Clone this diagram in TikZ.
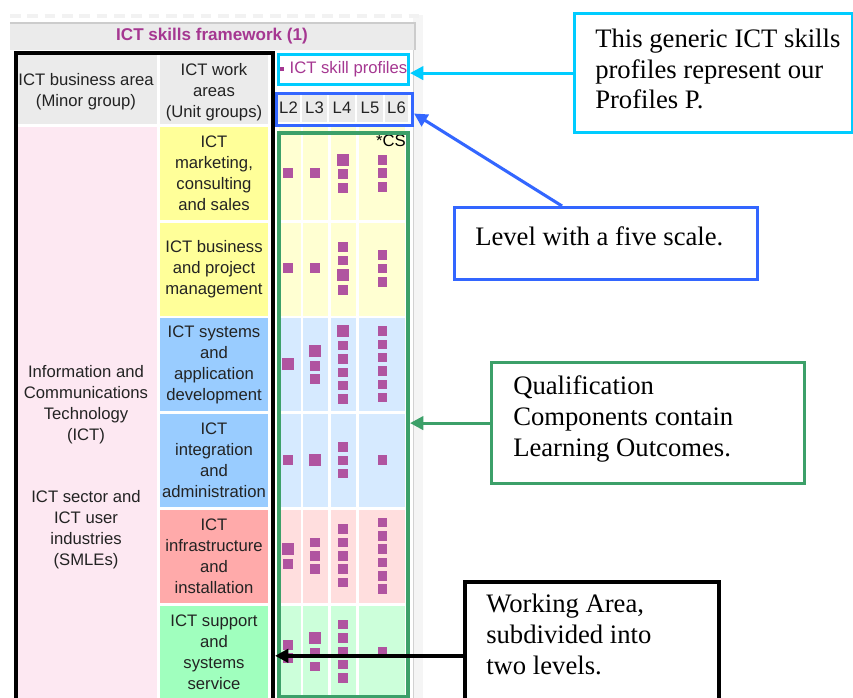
\documentclass[tikz,border=0pt]{standalone}
\usepackage{fontspec}
\setmainfont{Liberation Serif}
\setsansfont{Liberation Sans}
\usetikzlibrary{arrows.meta}
\definecolor{ttl}{RGB}{165,55,145}
\definecolor{hdr}{RGB}{235,235,235}
\definecolor{pinkbg}{RGB}{253,232,242}
\definecolor{yel}{RGB}{255,255,153}
\definecolor{yell}{RGB}{255,255,210}
\definecolor{blu}{RGB}{153,204,255}
\definecolor{blul}{RGB}{214,234,255}
\definecolor{rdd}{RGB}{255,170,170}
\definecolor{rdl}{RGB}{255,222,222}
\definecolor{grn}{RGB}{160,255,190}
\definecolor{grnl}{RGB}{204,255,218}
\definecolor{sqc}{RGB}{176,84,160}
\definecolor{cyn}{RGB}{0,204,255}
\definecolor{blc}{RGB}{51,102,255}
\definecolor{grc}{RGB}{60,160,105}
\definecolor{txt}{RGB}{35,35,35}
\definecolor{pagebg}{RGB}{245,245,245}
\newcommand\smsq[2]{\fill[sqc] (#1-4.75,#2-4.75) rectangle ++(9.5,9.5);}
\newcommand\lgsq[2]{\fill[sqc] (#1-6,#2-6) rectangle ++(12,12);}
\begin{document}
\begin{tikzpicture}[x=0.75pt,y=-0.75pt,
  tbl/.style={font=\sffamily\fontsize{12.5}{15.75}\selectfont, text=txt, align=center, inner sep=0pt},
  boxn/.style={anchor=north west, inner sep=0pt, fill=none},
  calltxt/.style={font=\fontsize{20}{23}\selectfont, align=left, inner sep=0pt, anchor=west, text=black},
  arr/.style={line width=2.3pt, -{Triangle[length=10pt,width=10pt]}}]
\useasboundingbox (0,0) rectangle (853,698);
\clip (0,0) rectangle (853,698);
% page background
\fill[pagebg] (413,15) rectangle (423,698);
\draw[gray!35, line width=0.75pt] (413.5,22) -- (413.5,698);
\draw[gray!10, line width=3pt, dash pattern=on 8pt off 5pt] (10,16) -- (423,16);
% title bar
\fill[hdr] (10,23) rectangle (415,50);
\draw[gray!40, line width=0.8pt] (10,23) -- (415,23) -- (415,50);
\node[tbl, font=\sffamily\bfseries\fontsize{12.8}{15}\selectfont, text=ttl] (title) at (212,36) {ICT skills framework (1)};
% header cells
\fill[hdr] (16,55) rectangle (157,124);
\fill[hdr] (160,55) rectangle (268,124);
\node[tbl] (hba) at (86,91.5) {ICT business area\\(Minor group)};
\node[tbl] (hwa) at (214,92) {ICT work\\areas\\(Unit groups)};
% level cells
\fill[hdr] (277,95) rectangle (300,122);
\fill[hdr] (302,95) rectangle (327,122);
\fill[hdr] (329,95) rectangle (355,122);
\fill[hdr] (357,95) rectangle (383,122);
\fill[hdr] (385,95) rectangle (408,122);
\node[tbl] (l2) at (288.5,108) {L2};
\node[tbl] (l3) at (314.5,108) {L3};
\node[tbl] (l4) at (342,108) {L4};
\node[tbl] (l5) at (370,108) {L5};
\node[tbl] (l6) at (396.5,108) {L6};
% business area
\fill[pinkbg] (16,127) rectangle (157,698);
\node[tbl] (ict) at (86,405) {Information and\\Communications\\Technology\\(ICT)};
\node[tbl] (sml) at (86,530) {ICT sector and\\ICT user\\industries\\(SMLEs)};
% work area cells
\fill[yel] (160,127) rectangle (268,220);
\fill[yel] (160,223) rectangle (268,316);
\fill[blu] (160,318) rectangle (268,411);
\fill[blu] (160,414) rectangle (268,507);
\fill[rdd] (160,510) rectangle (268,603);
\fill[grn] (160,606) rectangle (268,698);
\node[tbl] (w1) at (214,173.5) {ICT\\marketing,\\consulting\\and sales};
\node[tbl] (w2) at (214,269.5) {ICT business\\and project\\management};
\node[tbl] (w3) at (214,365) {ICT systems\\and\\application\\development};
\node[tbl] (w4) at (214,460.5) {ICT\\integration\\and\\administration};
\node[tbl] (w5) at (214,556.5) {ICT\\infrastructure\\and\\installation};
\node[tbl] (w6) at (214,652.5) {ICT support\\and\\systems\\service};
% grid cells
\foreach \ya/\yb/\c in {127/220/yell,223/316/yell,318/411/blul,414/507/blul,510/603/rdl,606/698/grnl}{
  \fill[\c] (279,\ya) rectangle (300.5,\yb);
  \fill[\c] (303,\ya) rectangle (328,\yb);
  \fill[\c] (330.5,\ya) rectangle (356,\yb);
  \fill[\c] (358.5,\ya) rectangle (405,\yb);
}
\node[tbl, text=black] (cs) at (391,141) {*CS};
% squares row 1
\smsq{288}{173}\smsq{315}{173}\lgsq{343}{160}\smsq{343}{174}\smsq{343}{188}
\smsq{382.5}{160}\smsq{382.5}{173}\smsq{382.5}{187}
% row 2
\smsq{288}{268}\smsq{315}{268}\smsq{343}{247}\smsq{343}{260.5}\lgsq{343}{275}\smsq{343}{290}
\smsq{382.5}{255}\smsq{382.5}{268.5}\smsq{382.5}{282}
% row 3
\lgsq{288}{364}\lgsq{315}{351}\smsq{315}{366}\smsq{315}{379}
\lgsq{343}{331}\smsq{343}{345.7}\smsq{343}{359}\smsq{343}{372.3}\smsq{343}{385.7}\smsq{343}{399}
\smsq{382.5}{331}\smsq{382.5}{344.3}\smsq{382.5}{357.7}\smsq{382.5}{371}\smsq{382.5}{384.3}\smsq{382.5}{397.7}
% row 4
\smsq{288}{460}\lgsq{315}{460}\smsq{343}{447}\smsq{343}{460.3}\smsq{343}{473.7}\smsq{382.5}{460}
% row 5
\lgsq{288}{549}\smsq{288}{564}\smsq{315}{542.5}\smsq{315}{555.8}\smsq{315}{569.2}
\smsq{343}{529}\smsq{343}{542.5}\smsq{343}{556}\smsq{343}{569}\smsq{343}{582.5}
\smsq{382.5}{522.5}\smsq{382.5}{535.8}\smsq{382.5}{549}\smsq{382.5}{562.5}\smsq{382.5}{575.8}\smsq{382.5}{589}
% row 6
\smsq{288}{645}\smsq{288}{658}\lgsq{315}{638.3}\smsq{315}{653}\smsq{315}{666.3}
\smsq{343}{624.7}\smsq{343}{638}\smsq{343}{651.3}\smsq{343}{664.7}\smsq{343}{678}
\smsq{382.5}{651.3}
% highlight boxes
\node[boxn, draw=cyn, line width=2.25pt, minimum width=97.5pt, minimum height=22.5pt,
  font=\sffamily\fontsize{12.5}{15}\selectfont, text=ttl] (prof) at (277,53)
  {\raisebox{2pt}{\rule{3pt}{3pt}}\hspace{4.5pt}ICT skill profiles};
\node[boxn, draw=blc, line width=2.25pt, minimum width=102pt, minimum height=24pt] (lv) at (275,92) {};
\node[boxn, draw=grc, line width=3pt, minimum width=96.75pt, minimum height=423pt] (qc) at (277,131) {};
\node[boxn, draw=black, line width=3pt, minimum width=192.75pt, minimum height=516.75pt] (wa) at (14,51) {};
% callouts
\node[boxn, draw=cyn, line width=2.4pt, minimum width=208.5pt, minimum height=89.25pt] (c1) at (573,12) {};
\node[calltxt] (t1) at (595,69) {This generic ICT skills\\profiles represent our\\Profiles P.};
\node[boxn, draw=blc, line width=2.4pt, minimum width=227.25pt, minimum height=54pt] (c2) at (453,206) {};
\node[calltxt] (t2) at (475,236) {Level with a five scale.};
\node[boxn, draw=grc, line width=2.4pt, minimum width=234.75pt, minimum height=90.75pt] (c3) at (490,361) {};
\node[calltxt] (t3) at (513,419) {Qualification\\Components contain\\Learning Outcomes.};
\node[boxn, draw=black, line width=2.7pt, minimum width=190.5pt, minimum height=111pt] (c4) at (463,580) {};
\node[calltxt, anchor=north west] (t4) at (486,594) {Working Area,\\subdivided into\\two levels.};
% connectors
\draw[arr, cyn] (c1.west) -- (c1.west -| prof.east);
\draw[arr, blc] ([xshift=81.75pt]c2.north west) -- ([yshift=-3pt]lv.east);
\draw[arr, grc] (c3.west) -- (c3.west -| qc.east);
\draw[arr, black, line width=2.6pt] (c4.west) -- (c4.west -| wa.east);
\end{tikzpicture}
\end{document}
